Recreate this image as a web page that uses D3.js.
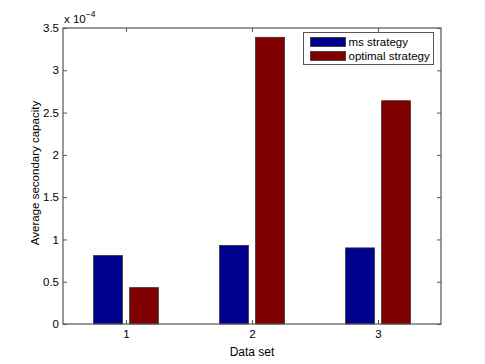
<!DOCTYPE html>
<html>
<head>
<meta charset="utf-8">
<script src="https://cdn.jsdelivr.net/npm/d3@7"></script>
<style>
  body { margin: 0; background: #fff; }
  text { font-family: "Liberation Sans", Arial, sans-serif; fill: #000; }
</style>
</head>
<body>
<svg id="chart" width="485" height="364"></svg>
<script>
// data, in units of 1e-4
var categories = [1, 2, 3];
var seriesNames = ['ms strategy', 'optimal strategy'];
var msValues = [0.81, 0.93, 0.90];
var optimalValues = [0.43, 3.39, 2.64];
var yTicks = [0, 0.5, 1, 1.5, 2, 2.5, 3, 3.5];

var colors = ['#00008f', '#800000'];
var axisColor = '#555';
var fontSize = 11.5;

var margin = {left: 63, right: 44, top: 28, bottom: 40},
    width = 485 - margin.left - margin.right,
    height = 364 - margin.top - margin.bottom;

var svg = d3.select('#chart');
var g = svg.append('g').attr('transform', 'translate(' + margin.left + ',' + margin.top + ')');

var x = d3.scaleLinear().domain([0.5, 3.5]).range([0, width]);
var y = d3.scaleLinear().domain([0, 3.5]).range([height, 0]);

// matlab grouped bar geometry
var groupWidth = 2 / 3.5,
    barWidth = groupWidth / 2 * 0.8;

var series = [msValues, optimalValues];
series.forEach(function (vals, s) {
  var offset = (s - 0.5) * groupWidth / 2;
  g.selectAll('rect.s' + s)
    .data(vals)
    .enter().append('rect')
    .attr('class', 's' + s)
    .attr('x', function (d, i) { return x(categories[i] + offset - barWidth / 2); })
    .attr('width', x(barWidth) - x(0))
    .attr('y', function (d) { return y(d); })
    .attr('height', function (d) { return y(0) - y(d); })
    .attr('fill', colors[s])
    .attr('stroke', '#333')
    .attr('stroke-width', 0.8);
});

var tickLen = 4;

// axes, ticks inward
var yAxis = d3.axisLeft(y).tickValues(yTicks).tickSize(-tickLen).tickPadding(4)
  .tickFormat(d3.format(''));
var yAxisR = d3.axisRight(y).tickValues(yTicks).tickSize(-tickLen).tickFormat('');
var xAxis = d3.axisBottom(x).tickValues(categories).tickSize(-tickLen).tickPadding(6)
  .tickFormat(d3.format('d'));
var xAxisT = d3.axisTop(x).tickValues(categories).tickSize(-tickLen).tickFormat('');

function styleAxis(sel) {
  sel.select('.domain').remove();
  sel.selectAll('line').attr('stroke', axisColor);
  sel.selectAll('text').attr('font-size', fontSize).attr('fill', '#000')
    .attr('font-family', '"Liberation Sans", Arial, sans-serif');
}

g.append('g').call(yAxis).call(styleAxis);
g.append('g').attr('transform', 'translate(' + width + ',0)').call(yAxisR).call(styleAxis);
g.append('g').attr('transform', 'translate(0,' + height + ')').call(xAxis).call(styleAxis);
g.append('g').call(xAxisT).call(styleAxis);

g.append('rect')
  .attr('x', 0).attr('y', 0)
  .attr('width', width).attr('height', height)
  .attr('fill', 'none')
  .attr('stroke', axisColor)
  .attr('stroke-width', 1.2);

// exponent label
var expo = svg.append('text')
  .attr('x', margin.left + 1)
  .attr('y', margin.top - 5)
  .attr('font-size', fontSize);
expo.append('tspan').text('x 10');
expo.append('tspan').attr('dy', -6).attr('font-size', 8.5).text('\u22124');

// axis labels
svg.append('text')
  .attr('x', margin.left + width / 2)
  .attr('y', margin.top + height + 32)
  .attr('text-anchor', 'middle')
  .attr('font-size', 12)
  .text('Data set');

svg.append('text')
  .attr('transform', 'translate(39,' + (margin.top + height / 2 - 3) + ') rotate(-90)')
  .attr('text-anchor', 'middle')
  .attr('font-size', fontSize)
  .text('Average secondary capacity');

// legend
var legend = svg.append('g').attr('transform', 'translate(303.5,32.5)');
legend.append('rect')
  .attr('width', 130).attr('height', 32)
  .attr('fill', '#fff')
  .attr('stroke', axisColor)
  .attr('stroke-width', 1);
seriesNames.forEach(function (name, i) {
  legend.append('rect')
    .attr('x', 7).attr('y', 5 + i * 14)
    .attr('width', 35).attr('height', 9)
    .attr('fill', colors[i])
    .attr('stroke', '#333')
    .attr('stroke-width', 0.8);
  legend.append('text')
    .attr('x', 45).attr('y', 13.5 + i * 14)
    .attr('font-size', fontSize)
    .text(name);
});
</script>
</body>
</html>
